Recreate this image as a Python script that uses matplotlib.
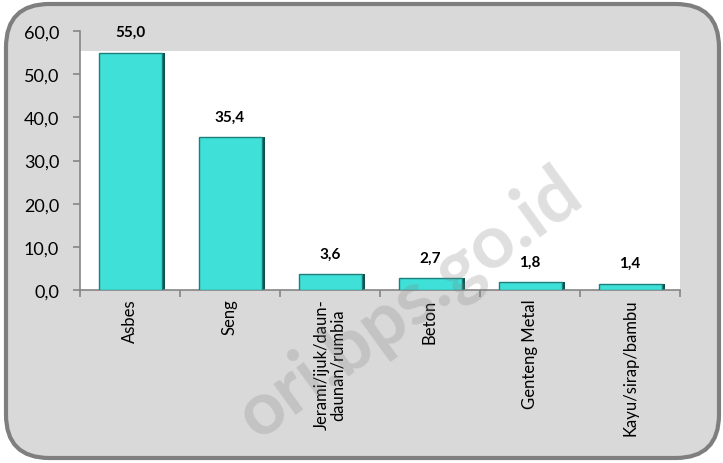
import numpy as np
import matplotlib.pyplot as plt
from matplotlib.patches import FancyBboxPatch, Rectangle

categories = ['Asbes', 'Seng', 'Jerami/ijuk/daun-\ndaunan/rumbia', 'Beton', 'Genteng Metal', 'Kayu/sirap/bambu']
values = [55.0, 35.4, 3.6, 2.7, 1.8, 1.4]
yticks = [0, 10, 20, 30, 40, 50, 60]

plt.rcParams['font.family'] = ['Lato', 'DejaVu Sans']

fig = plt.figure(figsize=(7.23, 4.64), dpi=100)
fig.patch.set_facecolor('white')

# rounded chart frame
frame = FancyBboxPatch((6/723, 5/464), 713/723, 454/464,
                       boxstyle='round,pad=0,rounding_size=0.06',
                       transform=fig.transFigure, facecolor='#d9d9d9',
                       edgecolor='#7f7f7f', lw=3, mutation_aspect=723/464, zorder=-5)
fig.patches.append(frame)

ax = fig.add_axes([80/723, (464-291)/464, 600/723, 259/464])
ax.set_facecolor('none')
ax.set_xlim(0, 6)
ax.set_ylim(0, 60)

# white plot area
ax.add_patch(Rectangle((0, 0), 6, 55.4, facecolor='white', edgecolor='none', zorder=0))

# watermark (behind the marks)
fig.text(410/723, (464-305)/464, 'ori.bps.go.id', rotation=36, ha='center', va='center',
         fontsize=54, fontweight='bold', color='gray', alpha=0.25, zorder=1)

x = np.arange(len(values)) + 0.5
ax.bar(x + 0.03, values, width=0.63, color='#0f4f4c', zorder=2)
ax.bar(x, values, width=0.63, color='#3fe0d8', edgecolor='#1d7f7a', lw=1.0, zorder=3)
for xi, v in zip(x, values):
    ax.annotate('{:.1f}'.format(v).replace('.', ','), (xi, v), xytext=(0, 15),
                textcoords='offset points', ha='center', va='center',
                fontsize=11, fontweight='bold', color='black')

ax.set_yticks(yticks)
ax.set_yticklabels(['{:.1f}'.format(t).replace('.', ',') for t in yticks], fontsize=13)
ax.set_xticks(np.arange(0, 7))
ax.set_xticklabels([])
ax.tick_params(axis='both', direction='out', length=5, color='#868686', width=1.2)
ax.tick_params(axis='y', pad=10)
for s in ['top', 'right']:
    ax.spines[s].set_visible(False)
for s in ['left', 'bottom']:
    ax.spines[s].set_color('#868686')
    ax.spines[s].set_linewidth(1.2)

for xi, c in zip(x, categories):
    ax.text(xi, -2.0, c, rotation=90, ha='center', va='top', fontsize=12,
            multialignment='center', linespacing=1.0, transform=ax.transData)

fig.savefig('out.png', dpi=100)
